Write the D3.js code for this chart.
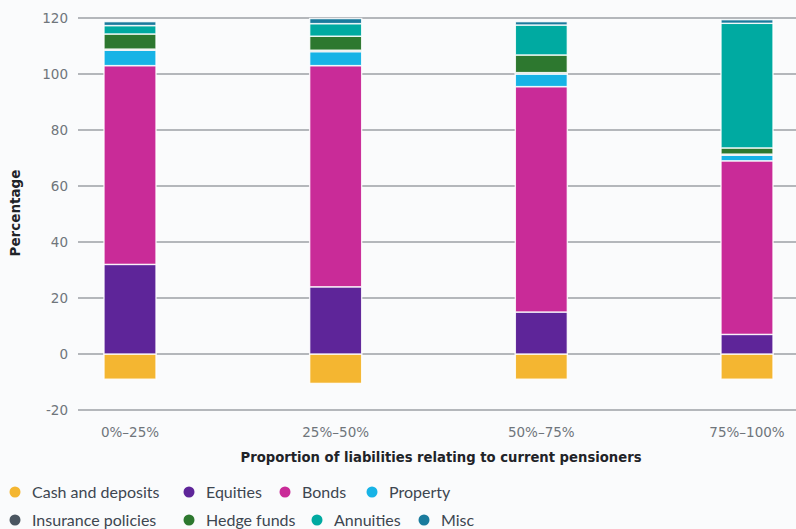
<!DOCTYPE html>
<html>
<head>
<meta charset="utf-8">
<script src="https://cdn.jsdelivr.net/npm/d3@7"></script>
<style>
  html, body { margin: 0; padding: 0; background: #fafbfc; }
  svg { display: block; }
</style>
</head>
<body>
<svg id="chart" width="796" height="529"></svg>
<script>
// Asset allocation by share of liabilities relating to current pensioners (%)
const categories = ["0%–25%", "25%–50%", "50%–75%", "75%–100%"];
const cash       = [-9, -10.5, -9, -9];
const equities   = [32, 24, 15, 7];
const bonds      = [71, 79, 80.5, 62];
const property   = [5.5, 5, 4.5, 2];
const insurance  = [0.4, 0.5, 0.5, 0.4];
const hedgeFunds = [5.4, 5, 6.3, 2.2];
const annuities  = [3, 4.5, 10.7, 44.5];
const misc       = [1.4, 1.8, 1.2, 1.3];
const yTicks     = [-20, 0, 20, 40, 60, 80, 100, 120];

const seriesNames = ["Cash and deposits", "Equities", "Bonds", "Property",
                     "Insurance policies", "Hedge funds", "Annuities", "Misc"];
const seriesValues = [cash, equities, bonds, property, insurance, hedgeFunds, annuities, misc];
const colors = ["#f4b631", "#5e2599", "#c92b98", "#17b3e6",
                "#4b5661", "#2d782f", "#00aaa1", "#1a7b9d"];

const rows = categories.map((c, i) => {
  const r = { category: c };
  seriesNames.forEach((s, j) => { r[s] = seriesValues[j][i]; });
  return r;
});

const svg = d3.select("#chart");
const width = 796;

const y = d3.scaleLinear().domain([-20, 120]).range([410, 18]);
const x = d3.scalePoint().domain(categories).range([130, 747]);
const barW = 52;

// gridlines
svg.append("g")
  .selectAll("line")
  .data(yTicks)
  .join("line")
  .attr("x1", 78).attr("x2", width)
  .attr("y1", d => y(d)).attr("y2", d => y(d))
  .attr("stroke", "#9da1a6")
  .attr("stroke-width", 1.6);

// y tick labels
svg.append("g")
  .selectAll("text")
  .data(yTicks)
  .join("text")
  .attr("x", 68)
  .attr("y", d => y(d))
  .attr("dy", "0.35em")
  .attr("text-anchor", "end")
  .attr("font-family", "DejaVu Sans, Verdana, sans-serif")
  .attr("font-size", 13.5)
  .attr("fill", "#6f757b")
  .text(d => d);

// stacked bars
const stack = d3.stack().keys(seriesNames).offset(d3.stackOffsetDiverging);
const stacked = stack(rows);

svg.append("g")
  .selectAll("g")
  .data(stacked)
  .join("g")
  .attr("fill", (d, i) => colors[i])
  .selectAll("rect")
  .data(d => d)
  .join("rect")
  .attr("x", d => x(d.data.category) - barW / 2)
  .attr("width", barW)
  .attr("y", d => y(d[1]))
  .attr("height", d => Math.max(0, y(d[0]) - y(d[1])))
  .attr("stroke", "#ffffff")
  .attr("stroke-opacity", 0.85)
  .attr("stroke-width", 1.4);

// x labels
svg.append("g")
  .selectAll("text")
  .data(categories)
  .join("text")
  .attr("x", d => x(d))
  .attr("y", 437)
  .attr("text-anchor", "middle")
  .attr("font-family", "DejaVu Sans, Verdana, sans-serif")
  .attr("font-size", 13.5)
  .attr("fill", "#6f757b")
  .text(d => d);

// axis titles
svg.append("text")
  .attr("x", 441)
  .attr("y", 462)
  .attr("text-anchor", "middle")
  .attr("font-family", "DejaVu Sans, Verdana, sans-serif")
  .attr("font-weight", "bold")
  .attr("font-size", 13.2)
  .attr("fill", "#1f2328")
  .text("Proportion of liabilities relating to current pensioners");

svg.append("text")
  .attr("transform", "translate(20,213) rotate(-90)")
  .attr("text-anchor", "middle")
  .attr("font-family", "DejaVu Sans, Verdana, sans-serif")
  .attr("font-weight", "bold")
  .attr("font-size", 13.5)
  .attr("fill", "#1f2328")
  .text("Percentage");

// legend
const legendPos = [
  [15, 492], [189, 492], [285, 492], [372, 492],
  [15, 520], [189, 520], [317, 520], [424, 520]
];
const legend = svg.append("g")
  .selectAll("g")
  .data(seriesNames)
  .join("g")
  .attr("transform", (d, i) => `translate(${legendPos[i][0]},${legendPos[i][1]})`);

legend.append("circle")
  .attr("r", 5.5)
  .attr("fill", (d, i) => colors[i]);

legend.append("text")
  .attr("x", 17)
  .attr("dy", "0.35em")
  .attr("font-family", "Lato, sans-serif")
  .attr("font-size", 16)
  .attr("fill", "#3d4650")
  .text(d => d);
</script>
</body>
</html>
